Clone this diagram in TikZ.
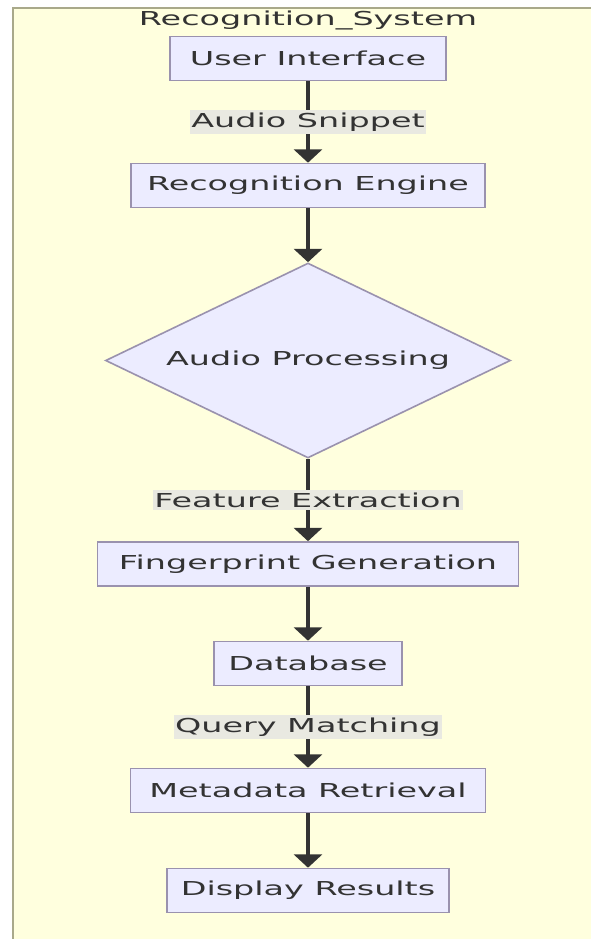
\documentclass[tikz,border=0pt]{standalone}
\usepackage{fontspec}
\usetikzlibrary{arrows.meta,shapes.geometric}
\newfontfamily\diagfont[FakeStretch=1.74]{DejaVu Sans}
\definecolor{clusterfill}{HTML}{FFFFDE}
\definecolor{clusterline}{HTML}{A9A98A}
\definecolor{nodefill}{HTML}{ECECFF}
\definecolor{nodeline}{HTML}{9A92AE}
\definecolor{inkgray}{HTML}{333333}
\definecolor{labelfill}{HTML}{E9E9E1}

\begin{document}
\begin{tikzpicture}[x=0.75pt,y=-0.75pt,
    font=\diagfont\fontsize{14.4pt}{17pt}\selectfont,text=inkgray,
    box/.style={draw=nodeline,fill=nodefill,line width=1.2pt,inner sep=0pt,minimum height=33pt},
    decbox/.style={diamond,draw=nodeline,fill=nodefill,line width=1.2pt,inner sep=0pt,aspect=2.08,minimum width=303.75pt,minimum height=146.25pt},
    flow/.style={-{Triangle[width=21pt,length=10pt]},draw=inkgray,line width=2.4pt},
    lbl/.style={fill=labelfill,inner xsep=1pt,inner ysep=2pt}]
    \useasboundingbox(0,0)rectangle(591,939);
    \fill[white](0,0)rectangle(591,939);
    \fill[clusterfill](13,8)rectangle(591,939);
    \draw[clusterline,line width=1pt](591,8)--(13,8)--(13,939);

    \node(title) at (308,20){Recognition\_System};

    \node[box,minimum width=207pt](ui) at (308,58.5){User Interface};
    \node[box,minimum width=265.5pt](re) at (308,185.5){Recognition Engine};
    \node[decbox](ap) at (308,360.5){Audio Processing};
    \node[box,minimum width=315.75pt](fg) at (308,564){Fingerprint Generation};
    \node[box,minimum width=141pt](db) at (308,663.5){Database};
    \node[box,minimum width=266.25pt](mr) at (308,790.5){Metadata Retrieval};
    \node[box,minimum width=211.5pt](dr) at (308,890.5){Display Results};

    \draw[flow](ui)--node[lbl]{Audio Snippet}(re);
    \draw[flow](re)--(ap);
    \draw[flow](ap)--node[lbl]{Feature Extraction}(fg);
    \draw[flow](fg)--(db);
    \draw[flow](db)--node[lbl]{Query Matching}(mr);
    \draw[flow](mr)--(dr);
\end{tikzpicture}
\end{document}
